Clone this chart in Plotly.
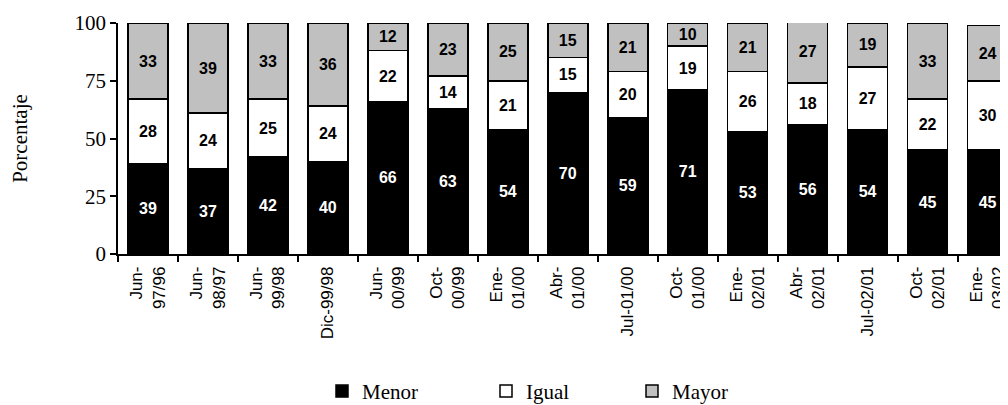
import plotly.graph_objects as go

categories = ["Jun-<br>97/96", "Jun-<br>98/97", "Jun-<br>99/98", "Dic-99/98", "Jun-<br>00/99",
              "Oct-<br>00/99", "Ene-<br>01/00", "Abr-<br>01/00", "Jul-01/00", "Oct-<br>01/00",
              "Ene-<br>02/01", "Abr-<br>02/01", "Jul-02/01", "Oct-<br>02/01", "Ene-<br>03/02"]
menor = [39, 37, 42, 40, 66, 63, 54, 70, 59, 71, 53, 56, 54, 45, 45]
igual = [28, 24, 25, 24, 22, 14, 21, 15, 20, 19, 26, 18, 27, 22, 30]
mayor = [33, 39, 33, 36, 12, 23, 25, 15, 21, 10, 21, 27, 19, 33, 24]

series = [("Menor", menor, "#000000", "#ffffff", "legend"),
          ("Igual", igual, "#ffffff", "#000000", "legend2"),
          ("Mayor", mayor, "#c0c0c0", "#000000", "legend3")]

fig = go.Figure()
for name, vals, color, tcolor, leg in series:
    fig.add_trace(go.Bar(
        x=categories, y=vals, name=name, showlegend=True,
        marker=dict(color=color, line=dict(color="#000000", width=1.5)),
        text=vals, textposition="inside", insidetextanchor="middle", textangle=0,
        textfont=dict(family="Liberation Sans, Arial", size=16, color=tcolor, weight="bold"),
        legend=leg,
    ))

serif = "Liberation Serif, Times New Roman, serif"
legend_common = dict(orientation="h", yanchor="middle", xanchor="left", y=-0.595,
                     font=dict(family=serif, size=21, color="#000000"),
                     bgcolor="rgba(0,0,0,0)", itemclick=False)
# page body has an 8px margin, so the figure is 8px smaller and shifted
fig.update_layout(
    barmode="stack", bargap=0.333,
    width=1000, height=397, showlegend=True,
    margin=dict(l=110, r=0, t=15, b=151, autoexpand=False),
    paper_bgcolor="#ffffff", plot_bgcolor="#ffffff",
    legend=dict(x=(322 - 118) / 890, **legend_common),
    legend2=dict(x=(486 - 118) / 890, **legend_common),
    legend3=dict(x=(632 - 118) / 890, **legend_common),
    xaxis=dict(type="category", range=[-0.5, 14.34], tickson="boundaries", automargin=False,
               ticks="outside", ticklen=6, tickcolor="#000000", tickwidth=1.5,
               showline=True, linecolor="#000000", linewidth=1.5,
               tickangle=-90, showgrid=False, ticklabelstandoff=4,
               tickfont=dict(family="Liberation Sans, Arial", size=17, color="#000000")),
    yaxis=dict(range=[0, 100], tickvals=[0, 25, 50, 75, 100], automargin=False,
               ticks="outside", ticklen=6, tickcolor="#000000", tickwidth=1.5,
               showline=True, linecolor="#000000", linewidth=1.5, showgrid=False,
               zeroline=False,
               tickfont=dict(family=serif, size=21, color="#000000"),
               title=dict(text="Porcentaje", font=dict(family=serif, size=21, color="#000000"),
                          standoff=41)),
)

fig.write_html("out.html")
